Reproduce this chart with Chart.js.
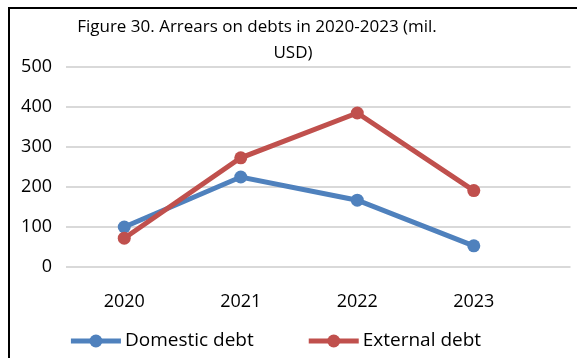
<!DOCTYPE html>
<html>
<head>
<meta charset="utf-8">
<title>Arrears on debts</title>
<script src="https://cdn.jsdelivr.net/npm/chart.js@4.4.1/dist/chart.umd.min.js"></script>
<style>
  html, body { margin: 0; padding: 0; background: #fff; }
  #wrap { width: 577px; height: 358px; }
</style>
</head>
<body>
<div id="wrap"><canvas id="arrearsChart" width="577" height="358"></canvas></div>
<script>
const years = [2020, 2021, 2022, 2023];
const domesticDebt = [100, 225, 167, 53];
const externalDebt = [72, 273, 385, 191];
const yTicks = [0, 100, 200, 300, 400, 500];
const titleLines = ["Figure 30. Arrears on debts in 2020-2023 (mil.", "USD)"];
const seriesNames = ["Domestic debt", "External debt"];

const BLUE = "#4F81BD";
const RED = "#C0504D";
const FONT = "'Open Sans', 'Noto Sans', sans-serif";

// black frame on the left and top edges
const framePlugin = {
    id: "frame",
    afterDraw(chart) {
        const ctx = chart.ctx;
        ctx.save();
        ctx.strokeStyle = "#000";
        ctx.lineWidth = 2;
        ctx.beginPath();
        ctx.moveTo(9, chart.height);
        ctx.lineTo(9, 8);
        ctx.lineTo(chart.width, 8);
        ctx.stroke();
        ctx.restore();
    }
};

// two-line heading, wrapped the way the figure caption is
const headingPlugin = {
    id: "heading",
    afterDraw(chart) {
        const ctx = chart.ctx;
        ctx.save();
        ctx.fillStyle = "#000";
        ctx.font = "17px " + FONT;
        ctx.textAlign = "center";
        ctx.textBaseline = "middle";
        ctx.fillText(titleLines[0], 257, 27);
        ctx.fillText(titleLines[1], 293, 53);
        ctx.restore();
    }
};

// legend: line with a round marker, then the series name
const lineLegend = {
    id: "lineLegend",
    afterDraw(chart) {
        const ctx = chart.ctx;
        const sets = chart.data.datasets;
        const lineW = 50, gapText = 4, gapItem = 55, y = 341;
        ctx.save();
        ctx.font = "19px " + FONT;
        ctx.textBaseline = "middle";
        const widths = sets.map(ds => ctx.measureText(ds.label).width);
        const total = widths.reduce((s, w) => s + lineW + gapText + w, 0) + gapItem * (sets.length - 1);
        let x = 276 - total / 2;
        sets.forEach((ds, i) => {
            ctx.strokeStyle = ds.borderColor;
            ctx.lineWidth = 5;
            ctx.beginPath();
            ctx.moveTo(x, y);
            ctx.lineTo(x + lineW, y);
            ctx.stroke();
            ctx.fillStyle = ds.borderColor;
            ctx.beginPath();
            ctx.arc(x + lineW / 2, y, 6.5, 0, Math.PI * 2);
            ctx.fill();
            ctx.fillStyle = "#000";
            ctx.fillText(ds.label, x + lineW + gapText, y);
            x += lineW + gapText + widths[i] + gapItem;
        });
        ctx.restore();
    }
};

const ctx = document.getElementById("arrearsChart").getContext("2d");
new Chart(ctx, {
    type: "line",
    data: {
        datasets: [
            {
                label: seriesNames[0],
                data: years.map((y, i) => ({ x: y, y: domesticDebt[i] })),
                borderColor: BLUE,
                backgroundColor: BLUE,
                pointBackgroundColor: BLUE,
                borderWidth: 5,
                pointRadius: 6.5,
                pointBorderWidth: 0,
                order: 1
            },
            {
                label: seriesNames[1],
                data: years.map((y, i) => ({ x: y, y: externalDebt[i] })),
                borderColor: RED,
                backgroundColor: RED,
                pointBackgroundColor: RED,
                borderWidth: 5,
                pointRadius: 6.5,
                pointBorderWidth: 0,
                order: 0
            }
        ]
    },
    options: {
        responsive: false,
        animation: false,
        layout: { padding: { top: 67, left: 8, right: 0, bottom: 0 } },
        scales: {
            x: {
                type: "linear",
                min: 2019.5,
                max: 2023.83,
                afterBuildTicks: scale => { scale.ticks = years.map(v => ({ value: v })); },
                afterFit: scale => { scale.height = 91; },
                ticks: {
                    color: "#000",
                    font: { family: FONT, size: 18 },
                    padding: 24,
                    callback: v => String(v)
                },
                grid: { display: false, drawTicks: false },
                border: { display: false }
            },
            y: {
                min: 0,
                max: 500,
                afterBuildTicks: scale => { scale.ticks = yTicks.map(v => ({ value: v })); },
                afterFit: scale => { scale.width = 58; },
                ticks: {
                    color: "#000",
                    font: { family: FONT, size: 18 },
                    padding: 14
                },
                grid: { color: "#D9D9D9", lineWidth: 2, drawTicks: false },
                border: { display: false }
            }
        },
        plugins: {
            title: { display: false },
            tooltip: { enabled: false },
            legend: { display: false }
        }
    },
    plugins: [framePlugin, headingPlugin, lineLegend]
});
</script>
</body>
</html>
